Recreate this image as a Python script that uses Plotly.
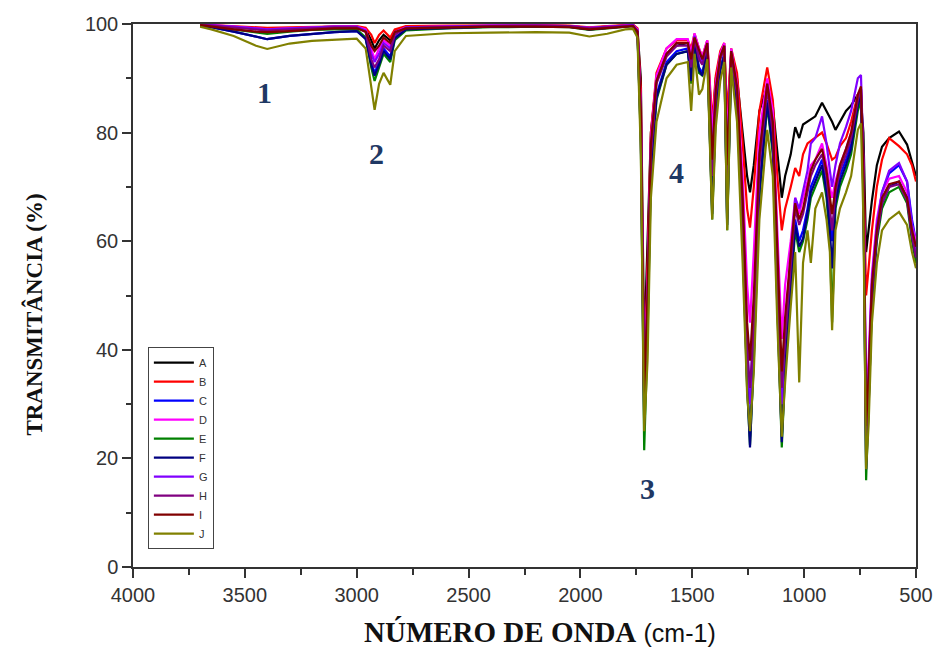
import plotly.graph_objects as go

# Wavenumbers (cm-1) shared by every sample
wavenumber = [3700, 3650, 3550, 3450, 3400, 3300, 3200, 3100, 3000, 2960,
              2935, 2920, 2900, 2880, 2850, 2830, 2780, 2600, 2400, 2200,
              2050, 1960, 1880, 1800, 1765, 1745, 1730, 1715, 1700, 1685,
              1660, 1615, 1570, 1520, 1505, 1490, 1470, 1455, 1433, 1411,
              1395, 1375, 1357, 1344, 1326, 1300, 1275, 1255, 1242, 1225,
              1200, 1165, 1140, 1120, 1100, 1085, 1060, 1040, 1022, 1005,
              985, 970, 950, 920, 900, 885, 875, 860, 840, 813,
              790, 760, 746, 735, 723, 712, 697, 675, 652, 620,
              576, 540, 518, 500]

A = [99.8, 99.7, 99.5, 99.2, 99.0, 99.2, 99.4, 99.5, 99.5, 99.0,
     97.0, 95.5, 97.0, 98.0, 97.0, 98.8, 99.5, 99.6, 99.7, 99.7,
     99.6, 99.3, 99.5, 99.7, 99.8, 99.0, 90.0, 40.0, 60.0, 80.0,
     90.0, 94.5, 96.0, 96.5, 95.0, 97.5, 95.0, 93.5, 96.5, 80.0,
     90.0, 94.0, 96.0, 82.0, 94.5, 90.0, 80.0, 72.0, 69.0, 74.0,
     84.0, 88.5, 85.0, 76.0, 68.0, 72.0, 76.0, 81.0, 79.0, 81.5,
     82.0, 82.5, 83.0, 85.5, 84.0, 83.0, 82.0, 80.5, 82.0, 84.0,
     85.0, 87.0, 86.0, 80.0, 58.0, 62.0, 67.5, 74.0, 77.4, 79.0,
     80.2, 77.8, 74.4, 72.0]

B = [99.9, 99.8, 99.6, 99.4, 99.3, 99.4, 99.5, 99.6, 99.6, 99.3,
     98.0, 96.5, 98.0, 98.8, 97.5, 99.0, 99.6, 99.7, 99.8, 99.8,
     99.7, 99.4, 99.6, 99.8, 99.9, 99.2, 88.0, 32.0, 55.0, 80.0,
     91.0, 95.5, 97.0, 97.0, 95.5, 98.2, 95.5, 94.0, 97.0, 82.0,
     90.5, 95.0, 96.5, 83.0, 95.5, 91.0, 78.0, 66.0, 62.5, 70.0,
     84.0, 92.0, 86.0, 72.0, 62.0, 66.0, 70.0, 73.5, 72.0, 76.0,
     78.0, 78.5, 79.0, 80.0, 78.0, 76.0, 75.0, 75.5, 77.5, 79.0,
     82.0, 87.0, 86.0, 75.0, 50.0, 55.0, 62.0, 70.0, 75.0, 79.0,
     77.5, 76.0, 74.0, 71.0]

C = [99.7, 99.4, 98.6, 97.6, 97.2, 97.8, 98.2, 98.5, 98.7, 97.5,
     93.0, 91.0, 93.0, 95.5, 94.0, 97.5, 99.0, 99.3, 99.5, 99.6,
     99.5, 99.0, 99.3, 99.6, 99.7, 98.5, 80.0, 28.0, 45.0, 74.0,
     87.0, 93.0, 95.0, 95.5, 90.0, 97.0, 92.0, 91.0, 95.5, 66.0,
     85.0, 92.0, 94.5, 64.0, 93.5, 86.0, 62.0, 35.0, 24.0, 40.0,
     70.0, 86.0, 78.0, 50.0, 24.0, 38.0, 52.0, 64.0, 60.0, 62.0,
     66.0, 70.0, 72.0, 75.0, 70.0, 64.0, 60.0, 68.0, 72.0, 75.0,
     78.0, 86.0, 88.0, 70.0, 20.0, 30.0, 50.0, 62.0, 69.0, 72.5,
     74.0, 71.0, 64.0, 60.0]

D = [99.9, 99.8, 99.5, 99.2, 99.0, 99.2, 99.4, 99.5, 99.5, 99.0,
     95.5, 93.5, 95.5, 97.0, 96.0, 98.5, 99.4, 99.6, 99.7, 99.7,
     99.6, 99.3, 99.5, 99.7, 99.8, 99.0, 85.0, 33.0, 52.0, 79.0,
     90.5, 95.5, 97.2, 97.2, 94.5, 98.3, 95.5, 94.0, 97.0, 80.0,
     89.0, 94.5, 96.5, 78.0, 95.5, 89.0, 72.0, 52.0, 45.0, 58.0,
     80.0, 90.0, 84.0, 62.0, 42.0, 52.0, 60.0, 68.0, 65.0, 68.0,
     71.0, 74.0, 75.0, 78.0, 74.0, 70.0, 68.0, 71.0, 74.0, 77.0,
     80.0, 87.0, 88.0, 72.0, 30.0, 38.0, 54.0, 64.0, 69.0, 71.5,
     72.0, 69.0, 63.0, 60.0]

E = [99.8, 99.6, 99.0, 98.4, 98.2, 98.6, 98.9, 99.0, 99.0, 97.5,
     92.0, 89.5, 92.0, 94.5, 93.0, 97.0, 98.8, 99.2, 99.4, 99.5,
     99.4, 98.9, 99.2, 99.5, 99.6, 98.3, 78.0, 21.5, 42.0, 72.0,
     86.0, 92.5, 94.5, 95.0, 89.0, 96.5, 91.0, 90.5, 95.0, 64.0,
     84.0, 91.5, 94.0, 62.0, 93.0, 85.0, 60.0, 33.0, 22.5, 38.0,
     68.0, 85.0, 76.0, 48.0, 22.0, 36.0, 50.0, 62.0, 58.0, 60.0,
     64.0, 68.0, 70.0, 73.0, 68.0, 60.0, 45.0, 66.0, 70.0, 73.0,
     76.0, 84.0, 86.0, 68.0, 16.0, 28.0, 48.0, 60.0, 66.0, 69.0,
     70.0, 67.0, 60.0, 56.0]

F = [99.7, 99.4, 98.6, 97.6, 97.2, 97.8, 98.2, 98.5, 98.7, 97.2,
     92.5, 90.5, 92.5, 95.0, 93.5, 97.3, 99.0, 99.3, 99.5, 99.6,
     99.5, 99.0, 99.3, 99.6, 99.7, 98.4, 79.0, 26.0, 44.0, 73.0,
     86.5, 92.5, 94.5, 95.0, 89.5, 96.8, 91.5, 90.5, 95.0, 65.0,
     84.5, 91.5, 94.0, 63.0, 93.0, 85.5, 61.0, 34.0, 22.0, 39.0,
     69.0, 85.5, 77.0, 49.0, 23.0, 37.0, 51.0, 63.0, 59.0, 60.5,
     65.0, 69.0, 71.0, 74.0, 69.0, 62.0, 55.0, 67.0, 71.0, 74.0,
     77.0, 85.0, 87.0, 69.0, 18.0, 29.0, 49.0, 61.0, 67.0, 70.0,
     71.0, 68.0, 61.0, 57.0]

G = [99.9, 99.8, 99.5, 99.2, 99.0, 99.2, 99.4, 99.5, 99.5, 98.8,
     94.5, 93.0, 94.5, 96.5, 95.5, 98.3, 99.4, 99.6, 99.7, 99.7,
     99.6, 99.3, 99.5, 99.7, 99.8, 98.8, 84.0, 32.0, 50.0, 77.0,
     89.5, 94.5, 96.5, 96.5, 93.0, 97.8, 94.0, 93.0, 96.5, 76.0,
     88.0, 94.0, 96.0, 74.0, 95.0, 88.0, 68.0, 42.0, 30.0, 46.0,
     76.0, 89.0, 82.0, 56.0, 30.0, 44.0, 58.0, 68.0, 66.0, 69.0,
     73.0, 78.0, 79.0, 83.0, 78.0, 73.0, 70.0, 74.0, 78.0, 81.0,
     84.0, 90.0, 90.6, 75.0, 28.0, 36.0, 53.0, 63.0, 69.0, 73.0,
     74.4, 71.0, 63.0, 58.0]

H = [99.9, 99.7, 99.3, 99.0, 98.8, 99.0, 99.2, 99.4, 99.4, 98.5,
     93.5, 92.0, 93.5, 96.0, 95.0, 98.0, 99.3, 99.5, 99.6, 99.7,
     99.6, 99.2, 99.4, 99.6, 99.7, 98.7, 83.0, 30.0, 48.0, 76.0,
     89.0, 94.0, 96.0, 96.0, 92.0, 97.5, 93.5, 92.5, 96.0, 72.0,
     87.0, 93.5, 95.5, 70.0, 94.5, 87.0, 65.0, 40.0, 33.0, 44.0,
     74.0, 88.0, 80.0, 54.0, 33.0, 42.0, 55.0, 66.0, 63.0, 65.0,
     69.0, 72.0, 74.0, 76.0, 72.0, 66.0, 62.0, 69.0, 73.0, 76.0,
     79.0, 86.0, 88.0, 72.0, 24.0, 33.0, 51.0, 61.0, 67.0, 70.0,
     70.5, 67.5, 61.0, 57.0]

I = [99.8, 99.5, 99.0, 98.6, 98.5, 98.7, 99.0, 99.2, 99.2, 98.6,
     96.0, 95.0, 96.0, 97.5, 96.5, 98.5, 99.2, 99.4, 99.5, 99.5,
     99.4, 99.0, 99.2, 99.5, 99.6, 98.6, 84.0, 31.0, 50.0, 78.0,
     89.5, 94.5, 96.5, 96.5, 93.5, 97.5, 95.0, 93.5, 96.5, 75.0,
     88.0, 94.0, 96.0, 74.0, 95.0, 88.5, 68.0, 45.0, 38.0, 50.0,
     76.0, 89.0, 82.0, 58.0, 36.0, 46.0, 57.0, 67.0, 64.0, 66.0,
     70.0, 73.0, 75.0, 77.0, 73.0, 68.0, 65.0, 70.0, 74.0, 77.0,
     80.0, 87.0, 88.5, 72.0, 26.0, 35.0, 52.0, 62.0, 68.0, 70.5,
     71.0, 68.0, 62.0, 59.0]

J = [99.5, 99.0, 97.8, 96.0, 95.4, 96.4, 96.9, 97.1, 97.3, 95.5,
     88.0, 84.2, 89.0, 91.0, 88.8, 95.0, 97.8, 98.3, 98.4, 98.5,
     98.4, 97.7, 98.2, 99.0, 99.1, 97.5, 76.0, 25.0, 38.0, 68.0,
     82.0, 90.0, 92.5, 93.0, 84.0, 94.5, 87.0, 88.0, 93.5, 64.0,
     81.0, 89.5, 93.0, 62.0, 92.0, 82.0, 56.0, 32.0, 25.0, 36.0,
     64.0, 80.5, 72.0, 45.0, 24.0, 34.0, 48.0, 58.0, 34.0, 56.0,
     62.0, 56.0, 66.0, 69.0, 64.0, 58.0, 43.6, 62.0, 66.0, 69.0,
     72.0, 80.5, 81.7, 64.0, 18.0, 26.0, 45.0, 56.0, 62.0, 64.0,
     65.4, 63.0, 58.0, 55.0]

sample_names = ["A", "B", "C", "D", "E", "F", "G", "H", "I", "J"]
sample_values = [A, B, C, D, E, F, G, H, I, J]
sample_colors = ["#000000", "#ff0000", "#0000ff", "#ff00ff", "#008000",
                 "#000080", "#8000ff", "#800080", "#800000", "#808000"]

band_labels = ["1", "2", "3", "4"]
band_x = [3411, 2911, 1701, 1572]
band_y = [87.3, 76.2, 14.5, 72.7]

x_ticks = [4000, 3500, 3000, 2500, 2000, 1500, 1000, 500]
y_ticks = [0, 20, 40, 60, 80, 100]

fig = go.Figure()
for name, vals, col in zip(sample_names, sample_values, sample_colors):
    fig.add_trace(go.Scatter(x=wavenumber, y=vals, mode="lines", name=name,
                             line=dict(color=col, width=2.2)))

for t, bx, by in zip(band_labels, band_x, band_y):
    fig.add_annotation(x=bx, y=by, text="<b>%s</b>" % t, showarrow=False,
                       font=dict(family="Liberation Serif", size=30, color="#1f3864"),
                       xanchor="center", yanchor="middle")

axis_common = dict(showgrid=False, zeroline=False, showline=True, linecolor="#333333",
                   linewidth=1.5, mirror=True, ticks="outside", ticklen=9,
                   tickwidth=1.5, tickcolor="#333333", automargin=False,
                   tickfont=dict(family="Liberation Sans", size=20, color="#333333"))

fig.update_xaxes(range=[4000, 500], tickvals=x_ticks,
                 minor=dict(ticks="outside", ticklen=6, dtick=250, tickwidth=1.5,
                            tickcolor="#333333", showgrid=False),
                 **axis_common)
fig.update_yaxes(range=[0, 100], tickvals=y_ticks,
                 minor=dict(ticks="outside", ticklen=5, dtick=10, tickwidth=1.5,
                            tickcolor="#333333", showgrid=False),
                 **axis_common)

fig.add_annotation(xref="paper", yref="paper", x=0.52, y=-0.12,
                   text="<b>NÚMERO DE ONDA</b> <span style='font-family:Liberation Sans;font-size:25px'>(cm-1)</span>",
                   showarrow=False, xanchor="center", yanchor="middle",
                   font=dict(family="Liberation Serif", size=29, color="#111111"))
fig.add_annotation(xref="paper", yref="paper", x=-0.127, y=0.464,
                   text="<b>TRANSMITÂNCIA (%)</b>", textangle=-90,
                   showarrow=False, xanchor="center", yanchor="middle",
                   font=dict(family="Liberation Serif", size=23, color="#111111"))

fig.update_layout(
    width=935, height=650,
    margin=dict(l=133, r=19, t=24, b=83, autoexpand=False),
    paper_bgcolor="white", plot_bgcolor="white",
    showlegend=True,
    legend=dict(x=0.019, y=0.405, xanchor="left", yanchor="top",
                bgcolor="white", bordercolor="#444444", borderwidth=1,
                font=dict(family="Liberation Sans", size=11, color="#333333"),
                itemwidth=40, tracegroupgap=0),
)

# Remove the default page margin so the 935x650 figure fills the window,
# and hide the interactive mode bar.
fig.write_html("out.html",
               config={"displayModeBar": False},
               post_script="document.body.style.margin='0px';"
                           "document.body.style.overflow='hidden';")
